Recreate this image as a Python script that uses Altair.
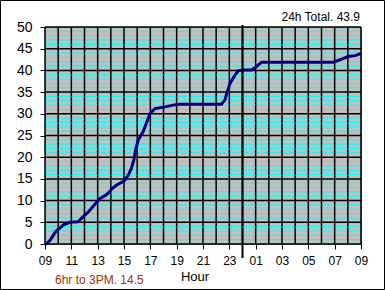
import altair as alt
import pandas as pd

# hours since 09:00
hours = [0, 0.1, 0.4, 0.8, 1.4, 1.9, 2.5, 2.9, 3.3, 3.8,
         4.18, 4.6, 4.9, 5.1, 5.45, 6.0, 6.33, 6.58, 6.78, 6.88,
         7.09, 7.46, 7.72, 7.97, 8.35, 9.11, 9.74, 10.25, 13.4, 13.67,
         13.8, 14.05, 14.43, 14.68, 15.06, 15.69, 16.07, 16.45, 21.9, 22.53,
         23.03, 23.54, 24.0]
rain = [0, 0, 0.9, 2.8, 4.4, 5.0, 5.1, 6.3, 7.4, 9.2,
        10.5, 11.2, 12.0, 12.8, 13.6, 14.5, 15.9, 17.6, 19.7, 21.7,
        24.0, 25.9, 28.0, 30.0, 31.2, 31.6, 32.0, 32.2, 32.2, 33.2,
        34.7, 37.0, 38.9, 39.9, 40.1, 40.1, 40.9, 41.9, 41.9, 42.6,
        43.2, 43.4, 43.9]
x_labels = ["09", "11", "13", "15", "17", "19", "21", "23", "01", "03", "05", "07", "09"]
x_tick_values = [0, 2, 4, 6, 8, 10, 12, 14, 16, 18, 20, 22, 24]
y_major = [0, 5, 10, 15, 20, 25, 30, 35, 40, 45, 50]
y_minor = [v for v in range(0, 51) if v % 5 != 0]
hour_grid = list(range(0, 25))
midnight = [15]
total_text = "24h Total. 43.9"
note_text = "6hr to 3PM. 14.5"
x_title = "Hour"

W, H = 316, 217
FONT = "Liberation Sans"
xs = alt.Scale(domain=[0, 24], nice=False, zero=False)
ys = alt.Scale(domain=[0, 50], nice=False)

label_expr = "[" + ",".join("'%s'" % s for s in x_labels) + "][round(datum.value/2)]"

x_axis = alt.Axis(
    values=x_tick_values, labelExpr=label_expr, grid=False, domain=False,
    tickColor="black", tickSize=5, labelFont=FONT, labelFontSize=12,
    labelColor="black", labelPadding=6, title=None, labelFlush=False)
y_axis = alt.Axis(
    values=y_major, grid=False, domain=False, tickColor="black", tickSize=5,
    labelFont=FONT, labelFontSize=14, labelColor="black", labelPadding=8,
    title=None)

minor = alt.Chart(pd.DataFrame({"y": y_minor})).mark_rule(
    color="#00FFFF", strokeWidth=1
).encode(y=alt.Y("y:Q", scale=ys, axis=y_axis))

major = alt.Chart(pd.DataFrame({"y": y_major})).mark_rule(
    color="black", strokeWidth=1.5
).encode(y=alt.Y("y:Q", scale=ys, axis=y_axis))

vgrid = alt.Chart(pd.DataFrame({"x": hour_grid})).mark_rule(
    color="black", strokeWidth=1.5
).encode(x=alt.X("x:Q", scale=xs, axis=x_axis))

line = alt.Chart(pd.DataFrame({"t": hours, "v": rain})).mark_line(
    color="#000080", strokeWidth=3
).encode(
    x=alt.X("t:Q", scale=xs, axis=x_axis),
    y=alt.Y("v:Q", scale=ys, axis=y_axis),
)

mid = alt.Chart(pd.DataFrame({"x": midnight})).mark_rule(
    color="black", strokeWidth=2
).encode(x=alt.X("x:Q", scale=xs, axis=x_axis), y=alt.value(-2), y2=alt.value(H + 14))

one = pd.DataFrame({"a": [0]})
total = alt.Chart(one).mark_text(
    text=total_text, align="right", baseline="alphabetic", font=FONT, fontSize=12, color="black"
).encode(x=alt.value(W - 1), y=alt.value(-6))
note = alt.Chart(one).mark_text(
    text=note_text, align="left", baseline="alphabetic", font=FONT, fontSize=12, color="#993300"
).encode(x=alt.value(10), y=alt.value(257))
title = alt.Chart(one).mark_text(
    text=x_title, align="center", baseline="alphabetic", font=FONT, fontSize=13, color="black"
).encode(x=alt.value(150), y=alt.value(254))
border = alt.Chart(one).mark_rect(
    fillOpacity=0, stroke="black", strokeWidth=1
).encode(x=alt.value(-44.5), x2=alt.value(339.5), y=alt.value(-26.5), y2=alt.value(262.5))

chart = alt.layer(minor, major, vgrid, line, mid, total, note, title, border).properties(
    width=W, height=H,
    padding={"left": 45, "top": 27, "right": 24, "bottom": 46},
    autosize=alt.AutoSizeParams(type="none"),
    background="white",
).configure_view(fill="#C0C0C0", stroke="#808080", strokeWidth=1)

chart.save("out.html", embed_options={"renderer": "svg", "actions": False})
